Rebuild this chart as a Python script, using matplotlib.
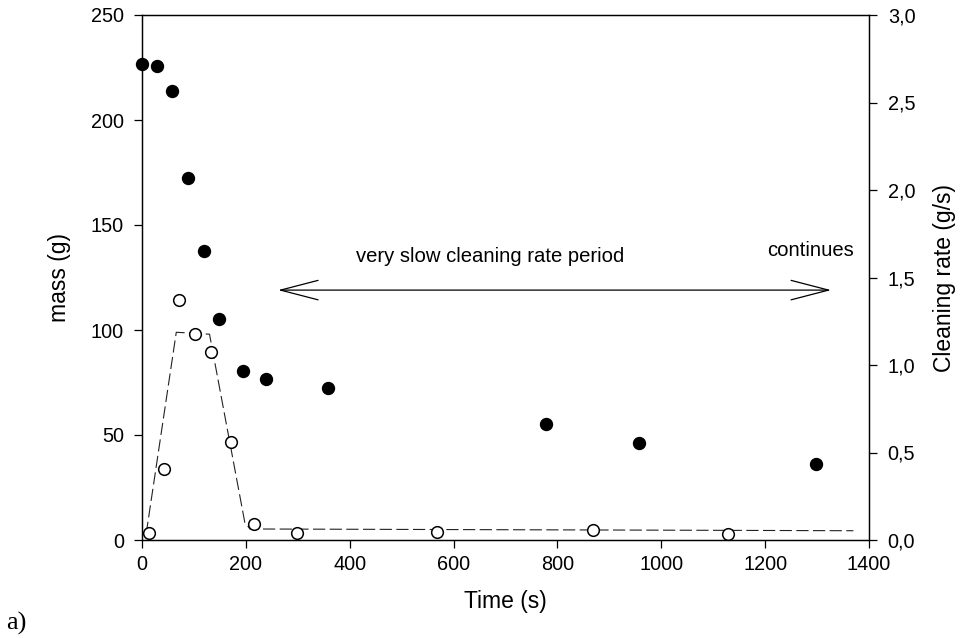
import matplotlib
matplotlib.use("Agg")
import matplotlib.pyplot as plt
from matplotlib.ticker import FuncFormatter

plt.rcParams["font.family"] = ["Liberation Sans", "DejaVu Sans"]

# Mass remaining on the surface (left axis)
mass_time = [0, 29, 58, 89, 119, 148, 194, 238, 358, 778, 958, 1297]
mass_g = [226.5, 225.6, 213.6, 172.3, 137.4, 105.4, 80.4, 76.5, 72.4, 55.4, 46.3, 36.3]

# Measured cleaning rate (right axis)
rate_time = [13, 43, 72, 103, 133, 171, 215, 298, 568, 868, 1128]
rate_gs = [0.038, 0.406, 1.371, 1.175, 1.073, 0.56, 0.093, 0.038, 0.046, 0.055, 0.036]

# Piecewise cleaning-rate profile (dashed)
fit_time = [8, 66, 130, 198, 208, 1370]
fit_rate = [0.035, 1.187, 1.176, 0.10, 0.063, 0.053]

x_ticks = [0, 200, 400, 600, 800, 1000, 1200, 1400]
mass_ticks = [0, 50, 100, 150, 200, 250]
rate_ticks = [0.0, 0.5, 1.0, 1.5, 2.0, 2.5, 3.0]

W, H = 964, 638
fig = plt.figure(figsize=(W / 100, H / 100), dpi=100)
ax = fig.add_axes([142 / W, 98 / H, 727 / W, 525 / H])
ax2 = ax.twinx()

ax.set_xlim(0, 1400)
ax.set_ylim(0, 250)
ax2.set_ylim(0, 3.0)
ax.set_xticks(x_ticks)
ax.set_yticks(mass_ticks)
ax2.set_yticks(rate_ticks)
ax2.yaxis.set_major_formatter(FuncFormatter(lambda v, p: f"{v:.1f}".replace(".", ",")))

for a in (ax, ax2):
    for s in a.spines.values():
        s.set_linewidth(0.9)
        s.set_color("black")
ax.tick_params(axis="both", direction="out", length=5.5, width=0.9,
               labelsize=14.3, colors="black")
ax.tick_params(axis="y", pad=7.5)
ax.tick_params(axis="x", pad=5.5)
ax.tick_params(top=False, right=False)
ax2.tick_params(axis="y", direction="out", length=5.5, width=0.9,
                labelsize=14.3, pad=8)

ax.set_xlabel("Time (s)", fontsize=16.5, labelpad=11)
ax.set_ylabel("mass (g)", fontsize=16.5, labelpad=14)
ax2.set_ylabel("Cleaning rate (g/s)", fontsize=16.5, labelpad=13)

ax2.plot(fit_time, fit_rate, color="#222222", lw=0.8,
         dashes=(11, 4), zorder=2)
ax2.plot(rate_time, rate_gs, linestyle="none", marker="o", ms=8.4,
         mfc="white", mec="black", mew=1.1, clip_on=False, zorder=3)
ax.plot(mass_time, mass_g, linestyle="none", marker="o", ms=8.6,
        mfc="black", mec="black", clip_on=False, zorder=4)
ax.set_zorder(ax2.get_zorder() + 1)
ax.patch.set_visible(False)

ax.annotate("", xy=(262, 119), xytext=(1327, 119),
            arrowprops=dict(arrowstyle="<->,head_length=27,head_width=7",
                            lw=0.9, color="black", mutation_scale=1,
                            shrinkA=0, shrinkB=0))
ax.text(670, 135, "very slow cleaning rate period", fontsize=14.6,
        ha="center", va="center")
ax.text(1287, 138, "continues", fontsize=14.6, ha="center", va="center")

fig.text(6 / W, 1 - 630 / H, "a)", fontsize=19, ha="left", va="baseline",
         family=["Liberation Serif", "DejaVu Serif"])

fig.savefig("out.png", dpi=100)
